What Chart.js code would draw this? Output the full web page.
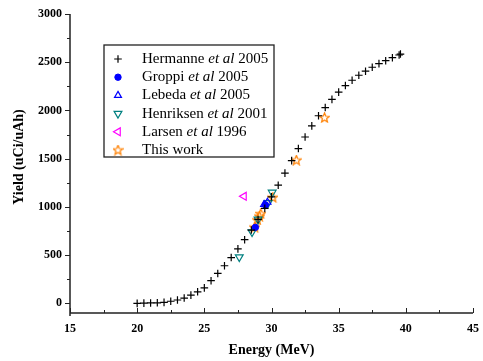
<!DOCTYPE html>
<html><head><meta charset="utf-8">
<script src="https://cdn.jsdelivr.net/npm/chart.js@4.4.1/dist/chart.umd.min.js"></script>
<style>html,body{margin:0;padding:0;background:#fff}#c{display:block}</style>
</head><body>
<canvas id="c" width="483" height="361"></canvas>
<script>
// ---- data ----
const hermanneE = [20,20.5,21,21.5,22,22.5,23,23.5,24,24.5,25,25.5,26,26.5,27,27.5,28,28.5,29,29.5,30,30.5,31,31.5,32,32.5,33,33.5,34,34.5,35,35.5,36,36.5,37,37.5,38,38.5,39,39.5,39.6];
const hermanneY = [0,2,4,6,10,22,35,55,85,120,160,235,310,390,475,565,660,760,870,985,1105,1225,1350,1480,1605,1725,1840,1945,2030,2115,2190,2258,2313,2365,2407,2448,2485,2516,2547,2575,2585];
const groppiE = [28.8,29.55];
const groppiY = [788,1020];
const lebedaE = [29.45,29.7];
const lebedaY = [1025,1048];
const henriksenE = [27.6,28.55,29.0,29.75,30.05];
const henriksenY = [480,740,870,1042,1150];
const larsenE = [27.95];
const larsenY = [1110];
const thisWorkE = [28.75,28.95,29.1,29.2,30.1,31.85,33.95];
const thisWorkY = [790,865,905,930,1100,1485,1925];
const xTicks = [15,20,25,30,35,40,45];
const yTicks = [0,500,1000,1500,2000,2500,3000];
const legendLabels = [["Hermanne ","et al"," 2005"],["Groppi ","et al"," 2005"],["Lebeda ","et al"," 2005"],["Henriksen ","et al"," 2001"],["Larsen ","et al"," 1996"],["This work","",""]];

const pts = (xs, ys) => xs.map((x, i) => ({x: x, y: ys[i]}));

// five-point star marker
function makeStar(color){
  const c = document.createElement('canvas'); c.width = 11; c.height = 11;
  const g = c.getContext('2d');
  g.strokeStyle = color; g.lineWidth = 1.2; g.beginPath();
  for (let i = 0; i < 10; i++){
    const r = i % 2 === 0 ? 5 : 2.2;
    const a = -Math.PI/2 + i*Math.PI/5;
    const px = 5.5 + r*Math.cos(a), py = 5.8 + r*Math.sin(a);
    i === 0 ? g.moveTo(px, py) : g.lineTo(px, py);
  }
  g.closePath(); g.stroke();
  return c;
}
const starImg = makeStar('#ff8000');

const datasets = [
  {data: pts(hermanneE, hermanneY), pointStyle: 'cross', radius: 3.8, borderColor: '#000', borderWidth: 1.2, backgroundColor: '#000'},
  {data: pts(groppiE, groppiY), pointStyle: 'circle', radius: 3.2, borderColor: '#0000ff', backgroundColor: '#0000ff', borderWidth: 1},
  {data: pts(lebedaE, lebedaY), pointStyle: 'triangle', radius: 4, borderColor: '#0000ff', backgroundColor: 'rgba(0,0,0,0)', borderWidth: 1.2},
  {data: pts(henriksenE, henriksenY), pointStyle: 'triangle', rotation: 180, radius: 4.5, borderColor: '#008080', backgroundColor: 'rgba(0,0,0,0)', borderWidth: 1.2},
  {data: pts(larsenE, larsenY), pointStyle: 'triangle', rotation: 270, radius: 4.5, borderColor: '#ff00ff', backgroundColor: 'rgba(0,0,0,0)', borderWidth: 1.2},
  {data: pts(thisWorkE, thisWorkY), pointStyle: starImg, radius: 5, borderColor: '#ff8000', backgroundColor: 'rgba(0,0,0,0)'}
];

const decor = {
  id: 'decor',
  afterDraw(chart){
    const ctx = chart.ctx, xs = chart.scales.x, ys = chart.scales.y, a = chart.chartArea;
    ctx.save();
    ctx.strokeStyle = '#222'; ctx.lineWidth = 1.5;
    // axis lines
    ctx.beginPath();
    ctx.moveTo(a.left, ys.getPixelForValue(3000)); ctx.lineTo(a.left, a.bottom + 3);
    ctx.moveTo(a.left - 0.7, a.bottom); ctx.lineTo(a.right, a.bottom);
    ctx.stroke();
    ctx.lineWidth = 1;
    ctx.beginPath();
    // y ticks outward
    for (let v = 0; v <= 3000; v += 250){
      const y = Math.round(ys.getPixelForValue(v)) + 0.5;
      const len = v % 500 === 0 ? 5 : 3;
      ctx.moveTo(a.left, y); ctx.lineTo(a.left - len, y);
    }
    // x ticks inward
    for (let v = 15; v <= 45; v += 2.5){
      const x = Math.round(xs.getPixelForValue(v)) + 0.5;
      const len = v % 5 === 0 ? 5 : 3;
      ctx.moveTo(x, a.bottom); ctx.lineTo(x, a.bottom - len);
    }
    ctx.stroke();
    // axis titles
    ctx.fillStyle = '#000';
    ctx.font = 'bold 14px "Liberation Serif"';
    ctx.textAlign = 'center'; ctx.textBaseline = 'middle';
    ctx.fillText('Energy (MeV)', (a.left + a.right)/2, 350);
    ctx.save();
    ctx.translate(19, 157); ctx.rotate(-Math.PI/2);
    ctx.fillText('Yield (uCi/uAh)', 0, 0);
    ctx.restore();
    // legend
    const bx = 104, by = 45, bw = 170, bh = 112;
    ctx.fillStyle = '#fff'; ctx.fillRect(bx, by, bw, bh);
    ctx.strokeStyle = '#222'; ctx.lineWidth = 1.3;
    ctx.strokeRect(bx, by, bw, bh);
    ctx.textAlign = 'left';
    legendLabels.forEach((lab, i) => {
      const yy = 59 + i*18.2;
      const ds = chart.data.datasets[i];
      ctx.save();
      ctx.strokeStyle = ds.borderColor; ctx.fillStyle = ds.backgroundColor; ctx.lineWidth = ds.borderWidth || 1;
      Chart.helpers.drawPoint(ctx, {pointStyle: ds.pointStyle, rotation: ds.rotation || 0, radius: ds.radius, borderWidth: ds.borderWidth || 1}, 118, yy);
      ctx.restore();
      ctx.fillStyle = '#000';
      let tx = 142;
      ctx.font = '15px "Liberation Serif"';
      ctx.fillText(lab[0], tx, yy); tx += ctx.measureText(lab[0]).width;
      ctx.font = 'italic 15px "Liberation Serif"';
      ctx.fillText(lab[1], tx, yy); tx += ctx.measureText(lab[1]).width;
      ctx.font = '15px "Liberation Serif"';
      ctx.fillText(lab[2], tx, yy);
    });
    ctx.restore();
  }
};

new Chart(document.getElementById('c'), {
  type: 'scatter',
  data: {datasets: datasets},
  options: {
    responsive: false, animation: false, devicePixelRatio: 1,
    layout: {padding: {left: 0, right: 10, top: 14, bottom: 0}},
    plugins: {legend: {display: false}, tooltip: {enabled: false}},
    scales: {
      x: {
        type: 'linear', min: 15, max: 45,
        grid: {display: false}, border: {display: false},
        afterBuildTicks: s => { s.ticks = xTicks.map(v => ({value: v})); },
        afterFit: s => { s.height = 48; },
        ticks: {padding: 1, color: '#000', callback: v => String(v), font: {family: 'Liberation Serif', weight: 'bold', size: 12}, maxRotation: 0}
      },
      y: {
        type: 'linear', min: -100, max: 3000,
        grid: {display: false}, border: {display: false},
        afterBuildTicks: s => { s.ticks = yTicks.map(v => ({value: v})); },
        afterFit: s => { s.width = 70; },
        ticks: {padding: 0, color: '#000', callback: v => String(v), font: {family: 'Liberation Serif', weight: 'bold', size: 12}}
      }
    }
  },
  plugins: [decor]
});
</script>
</body></html>
